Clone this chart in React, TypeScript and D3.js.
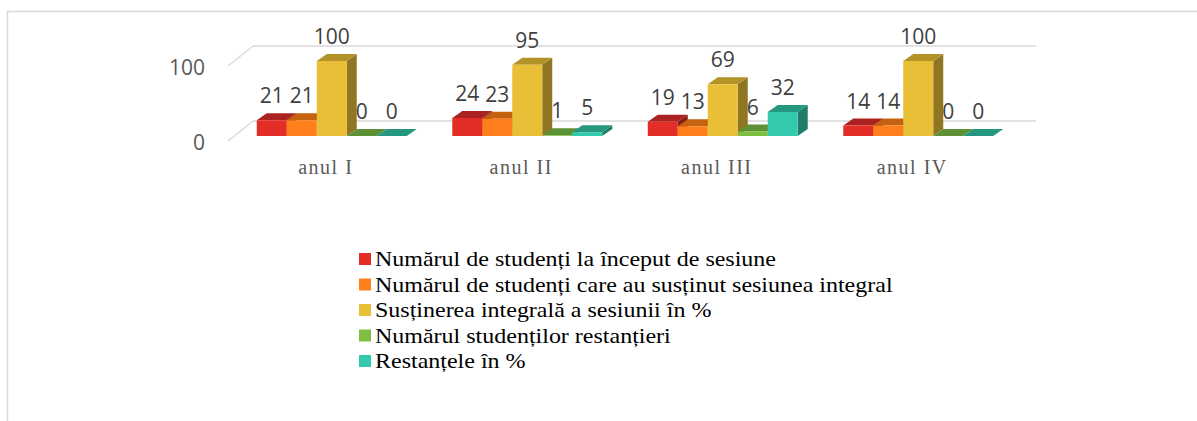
import React from "react";
import * as d3 from "d3";

const categories = ["anul I", "anul II", "anul III", "anul IV"];
const seriesNames = [
  "Numărul de studenți la început de sesiune",
  "Numărul de studenți care au susținut sesiunea integral",
  "Susținerea integrală a sesiunii în %",
  "Numărul studenților restanțieri",
  "Restanțele în %",
];
const studentiInceput = [21, 24, 19, 14];
const studentiIntegral = [21, 23, 13, 14];
const sustinereProcent = [100, 95, 69, 100];
const restantieri = [0, 1, 6, 0];
const restanteProcent = [0, 5, 32, 0];
const seriesValues = [studentiInceput, studentiIntegral, sustinereProcent, restantieri, restanteProcent];
const yTicks = [0, 100];

const colors = [
  { front: "#E22E27", top: "#AB2320", side: "#8A1C1A" },
  { front: "#FF7F1D", top: "#C4620F", side: "#A05010" },
  { front: "#E8BF37", top: "#B39328", side: "#917622" },
  { front: "#7FBF3F", top: "#5E9136", side: "#4C7A2C" },
  { front: "#33C9AD", top: "#26977F", side: "#1F7E6A" },
];

export default function App() {
  const W = 1197, H = 421;
  const frontLeft = 228, frontRight = 1010;
  const floorDx = 25, floorDy = -20;
  const barOx = 6, barOy = -5;
  const barDx = 10, barDy = -7;

  const yFront = d3.scaleLinear().domain([0, 100]).range([141, 66]);
  const x0 = d3.scaleBand<string>().domain(categories).range([frontLeft, frontRight]).paddingInner(0.233).paddingOuter(0.1165);
  const x1 = d3.scaleBand<string>().domain(seriesNames).range([0, x0.bandwidth()]);

  const bars: JSX.Element[] = [];
  const labels: JSX.Element[] = [];
  categories.forEach((c, ci) => {
    seriesNames.forEach((s, si) => {
      const v = seriesValues[si][ci];
      const xl = (x0(c) as number) + (x1(s) as number) + barOx;
      const w = x1.bandwidth();
      const xr = xl + w;
      const yb = yFront(0) + barOy;
      const yt = yFront(v) + barOy;
      const col = colors[si];
      const key = `${ci}-${si}`;
      bars.push(
        <g key={key}>
          <polygon points={`${xr},${yt} ${xr + barDx},${yt + barDy} ${xr + barDx},${yb + barDy} ${xr},${yb}`} fill={col.side} />
          <polygon points={`${xl},${yt} ${xl + barDx},${yt + barDy} ${xr + barDx},${yt + barDy} ${xr},${yt}`} fill={col.top} />
          {v > 0 && <rect x={xl} y={yt} width={w} height={yb - yt} fill={col.front} />}
        </g>
      );
      labels.push(
        <text key={"l" + key} x={xl + w / 2} y={yt - 17} textAnchor="middle" fontFamily="'Open Sans', sans-serif" fontSize={21} fill="#404040">
          {v}
        </text>
      );
    });
  });

  const legendX = 359, legendY = 266, legendStep = 25.5;
  const textX = legendX + 16;

  return (
    <svg width={W} height={H} style={{ position: "absolute", left: 0, top: 0, background: "#fff" }}>
      <rect x={7.5} y={11.5} width={1400} height={600} fill="#fff" stroke="#D9D9D9" strokeWidth={1.5} />
      {yTicks.map((t) => (
        <g key={t}>
          <line x1={frontLeft + floorDx} x2={frontRight + floorDx + 1} y1={yFront(t) + floorDy} y2={yFront(t) + floorDy} stroke="#D9D9D9" strokeWidth={1.5} />
          <line x1={frontLeft} x2={frontLeft + floorDx} y1={yFront(t)} y2={yFront(t) + floorDy} stroke="#D9D9D9" strokeWidth={1.5} />
          <text x={205} y={yFront(t) + 9} textAnchor="end" fontFamily="'Open Sans', sans-serif" fontSize={21} fill="#595959">
            {t}
          </text>
        </g>
      ))}
      {bars}
      {labels}
      {categories.map((c) => (
        <text key={c} x={(x0(c) as number) + x0.bandwidth() / 2} y={174} textAnchor="middle" fontFamily="'Liberation Serif', serif" fontSize={20} letterSpacing={1.5} fill="#595959">
          {c}
        </text>
      ))}
      {seriesNames.map((s, si) => (
        <g key={s}>
          <rect x={legendX} y={legendY + si * legendStep - 13} width={12} height={12} fill={colors[si].front} />
          <g transform={`translate(${textX},${legendY + si * legendStep}) scale(1.2,1)`}>
            <text x={0} y={0} fontFamily="'Liberation Serif', 'Times New Roman', serif" fontSize={20} fill="#000">
              {s}
            </text>
          </g>
        </g>
      ))}
    </svg>
  );
}
